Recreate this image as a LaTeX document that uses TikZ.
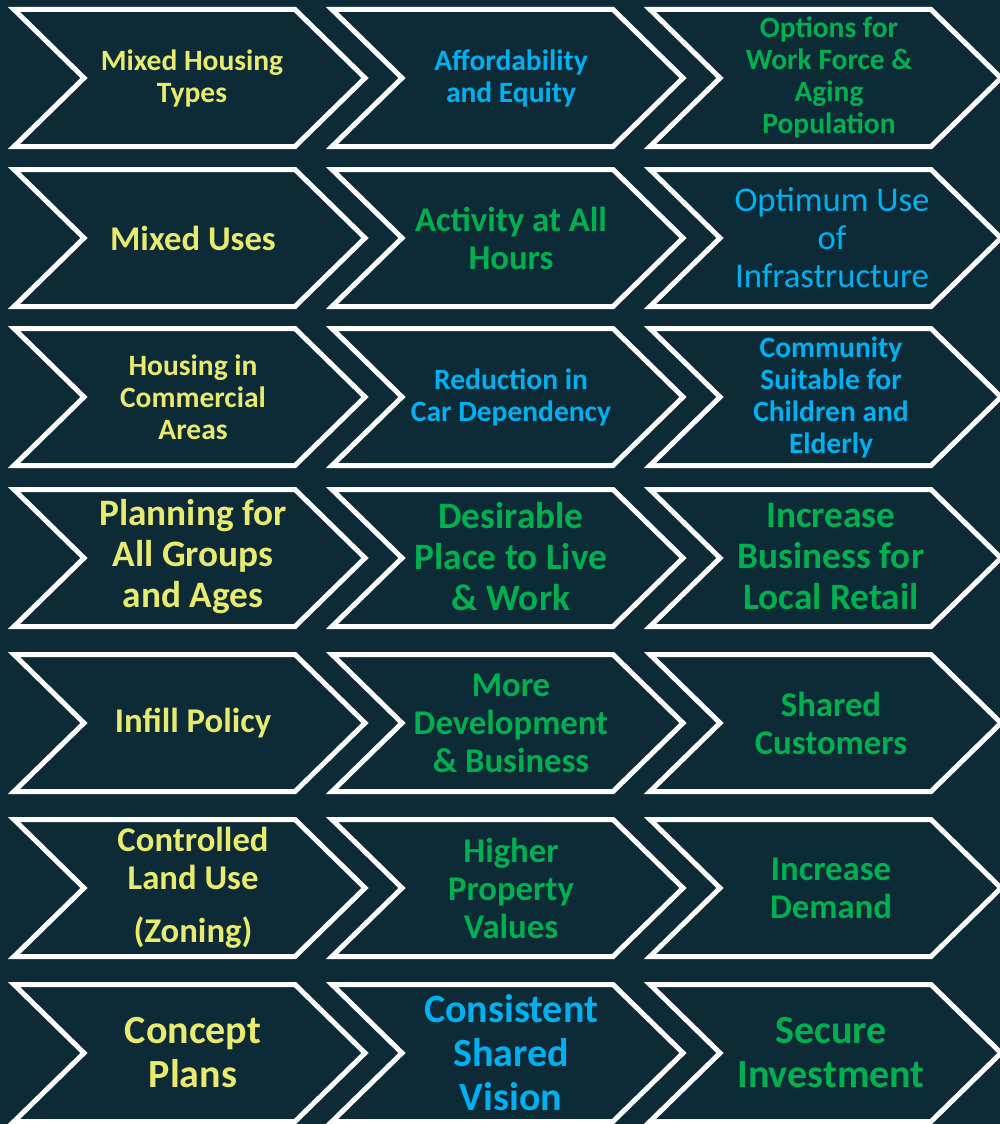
\documentclass[tikz,border=0pt]{standalone}
\usepackage{fontspec}
\setmainfont{Carlito}
\definecolor{bgc}{HTML}{0C2B37}
\definecolor{ylw}{HTML}{E8EB6E}
\definecolor{blu}{HTML}{00B0F0}
\definecolor{grn}{HTML}{00B050}
\tikzset{
  chev/.style={draw=white,line width=5pt,fill=bgc},
  lbl/.style={align=center,inner sep=0pt},
  szA/.style={lbl,font=\fontsize{29.5}{32}\selectfont\bfseries},
  szB/.style={lbl,font=\fontsize{34.7}{38}\selectfont\bfseries},
  szC/.style={lbl,font=\fontsize{37.3}{41}\selectfont\bfseries},
  szD/.style={lbl,font=\fontsize{40}{44}\selectfont\bfseries}
}
\begin{document}
\begin{tikzpicture}[x=1pt,y=-1pt]
\fill[bgc](0,0) rectangle (1000,1124);
\useasboundingbox(0,0) rectangle (1000,1124);
\pgfmathsetmacro{\hh}{68.5}
% seven rows of three chevrons
\foreach \yc in {78,238,397,558,723,888,1053}{
  \foreach \xl in {14,332,650}{
    \draw[chev](\xl,\yc-\hh)--++(281,0)--++(70,\hh)--++(-70,\hh)--++(-281,0)--++(70,-\hh)--cycle;
  }
}
% row 1
\node[szA,text=ylw](mixhouse) at (192,78){Mixed Housing\\Types};
\node[szA,text=blu](afford) at (511,78){Affordability\\and Equity};
\node[szA,text=grn](workforce) at (829,77){Options for\\Work Force \&\\Aging\\Population};
% row 2
\node[szB,text=ylw](mixuses) at (193,238){Mixed Uses};
\node[szB,text=grn](allhours) at (511,238){Activity at All\\Hours};
\node[lbl,font=\fontsize{34.7}{38}\selectfont,text=blu](infra) at (832,238){Optimum Use\\of\\Infrastructure};
% row 3
\node[szA,text=ylw](commercial) at (193,397){Housing in\\Commercial\\Areas};
\node[szA,text=blu](cardep) at (511,397){Reduction in\\Car Dependency};
\node[szA,text=blu](elderly) at (831,397){Community\\Suitable for\\Children and\\Elderly};
% row 4
\node[szC,text=ylw](allgroups) at (193,557){Planning for\\All Groups\\and Ages};
\node[szC,text=grn](livework) at (511,557){Desirable\\Place to Live\\\& Work};
\node[szC,text=grn](retail) at (831,557){Increase\\Business for\\Local Retail};
% row 5
\node[szB,text=ylw](infill) at (193,723){Infill Policy};
\node[szB,text=grn](moredev) at (511,723){More\\Development\\\& Business};
\node[szB,text=grn](customers) at (831,723){Shared\\Customers};
% row 6
\node[szB,text=ylw](zoning) at (193,888){Controlled\\Land Use\\[15pt](Zoning)};
\node[szB,text=grn](propvalue) at (511,888){Higher\\Property\\Values};
\node[szB,text=grn](demand) at (831,888){Increase\\Demand};
% row 7
\node[szD,text=ylw](concept) at (193,1053){Concept\\Plans};
\node[szD,text=blu](vision) at (511,1053){Consistent\\Shared\\Vision};
\node[szD,text=grn](invest) at (831,1053){Secure\\Investment};
\end{tikzpicture}
\end{document}
